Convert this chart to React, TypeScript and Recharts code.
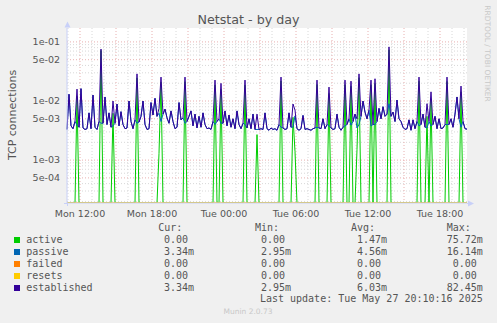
import React from 'react';
import { LineChart, Line, XAxis, YAxis, CartesianGrid, ReferenceLine } from 'recharts';

// Munin palette
const COLORS = {
  canvas: '#F0F0F0',
  plot: '#FFFFFF',
  text: '#555555',
  faint: '#C8C8C8',
  axis: '#C8D0F8',
  gridMinor: '#D8D8D8',
  gridMajor: '#E8B0B0',
};

const seriesNames = ['active', 'passive', 'failed', 'resets', 'established'];
const seriesColors = ['#00CC00', '#0066B3', '#FF8000', '#FFCC00', '#330099'];

// legend stats, as printed by rrdtool
const statCur = ['0.00', '3.34m', '0.00', '0.00', '3.34m'];
const statMin = ['0.00', '2.95m', '0.00', '0.00', '2.95m'];
const statAvg = ['1.47m', '4.56m', '0.00', '0.00', '6.03m'];
const statMax = ['75.72m', '16.14m', '0.00', '0.00', '82.45m'];

// samples every 10 minutes, starting Mon 10:55 (values in milli-connections)
const STEP = 10;

const established = [
  3.3, 13.0, 3.8, 3.4, 4.5, 15.9, 3.6, 16.2, 3.5, 3.3,
  3.4, 6.3, 3.4, 12.6, 3.6, 3.3, 4.5, 75.7, 4.2, 11.7,
  4.0, 6.3, 3.6, 10.0, 4.2, 8.9, 3.8, 6.6, 4.0, 3.4,
  3.5, 10.0, 4.5, 3.4, 4.8, 28.8, 4.4, 5.5, 10.0, 4.0,
  3.3, 3.4, 9.4, 5.8, 11.1, 5.5, 7.5, 25.4, 6.0, 7.3,
  5.2, 4.2, 6.8, 4.5, 3.4, 3.6, 9.4, 4.8, 5.2, 25.4,
  4.5, 5.5, 6.8, 3.8, 6.0, 3.5, 5.5, 3.6, 6.3, 4.0,
  3.4, 3.5, 3.3, 4.5, 22.6, 4.5, 5.0, 19.9, 4.2, 6.8,
  3.8, 5.8, 3.6, 5.0, 3.4, 6.8, 4.0, 3.4, 4.2, 22.6,
  3.5, 5.0, 3.4, 6.0, 3.3, 6.0, 3.3, 3.4, 3.3, 6.3,
  3.4, 3.2, 3.5, 3.3, 3.4, 3.2, 4.0, 25.4, 3.5, 3.3,
  3.4, 6.3, 3.6, 8.9, 7.0, 3.4, 3.2, 3.4, 5.7, 3.3,
  3.4, 3.3, 3.2, 3.4, 3.5, 22.6, 3.5, 3.4, 5.0, 3.4,
  4.0, 17.2, 3.5, 3.3, 3.4, 6.0, 3.6, 3.2, 3.6, 22.6,
  4.0, 5.0, 21.7, 4.5, 6.0, 5.0, 28.8, 5.5, 10.0, 6.5,
  5.0, 7.0, 22.6, 4.0, 23.8, 4.5, 7.5, 5.0, 8.0, 5.5,
  6.0, 82.4, 5.5, 6.5, 4.5, 10.4, 5.0, 4.5, 3.6, 3.3,
  3.4, 4.8, 3.2, 4.8, 3.4, 4.5, 25.4, 4.0, 6.0, 3.6,
  9.0, 4.5, 14.3, 4.0, 5.5, 3.4, 5.0, 3.4, 3.5, 4.0,
  25.4, 4.0, 5.0, 3.6, 6.0, 11.7, 5.0, 17.9, 4.5, 3.4,
  3.34,
];

const passive = [
  3.3, 13.0, 3.8, 3.4, 4.5, 3.9, 3.6, 16.14, 3.5, 3.3,
  3.4, 6.3, 3.4, 12.6, 3.6, 3.3, 4.5, 4.2, 4.2, 11.7,
  4.0, 6.3, 3.6, 3.8, 4.2, 8.9, 3.8, 6.6, 4.0, 3.4,
  3.5, 10.0, 4.5, 3.4, 4.8, 4.2, 4.4, 5.5, 10.0, 4.0,
  3.3, 3.4, 9.4, 5.8, 11.1, 5.5, 6.2, 4.5, 6.0, 7.3,
  5.2, 4.2, 6.8, 4.5, 3.4, 3.6, 9.4, 4.8, 5.2, 4.2,
  4.5, 5.5, 6.8, 3.8, 6.0, 3.5, 5.5, 3.6, 6.3, 4.0,
  3.4, 3.5, 3.3, 4.5, 4.0, 4.5, 5.0, 4.2, 4.2, 6.8,
  3.8, 5.8, 3.6, 5.0, 3.4, 6.8, 4.0, 3.4, 4.2, 4.0,
  3.5, 5.0, 3.4, 6.0, 3.3, 3.3, 3.3, 3.4, 3.3, 6.3,
  3.4, 3.2, 3.5, 3.3, 3.4, 3.2, 4.0, 3.6, 3.5, 3.3,
  3.4, 6.3, 3.6, 3.6, 5.6, 3.4, 3.2, 3.4, 5.7, 3.3,
  3.4, 3.3, 3.2, 3.4, 3.5, 3.6, 3.5, 3.4, 5.0, 3.4,
  4.0, 3.8, 3.5, 3.3, 3.4, 6.0, 3.6, 3.2, 3.6, 3.8,
  4.0, 5.0, 3.9, 4.5, 6.0, 3.5, 4.0, 5.5, 10.0, 6.5,
  5.0, 7.0, 3.8, 4.0, 4.0, 4.5, 7.5, 5.0, 8.0, 5.5,
  6.0, 9.0, 5.5, 6.5, 4.5, 10.4, 5.0, 4.5, 3.6, 3.3,
  3.4, 4.8, 3.2, 4.8, 3.4, 4.5, 3.8, 4.0, 6.0, 3.6,
  3.5, 4.5, 3.8, 4.0, 5.5, 3.4, 5.0, 3.4, 3.5, 4.0,
  4.0, 4.0, 5.0, 3.6, 6.0, 11.7, 5.0, 3.6, 4.5, 3.4,
  3.34,
];

const active = [
  0, 0, 0, 0, 0, 12.0, 0, 0, 0, 0,
  0, 0, 0, 0, 0, 0, 0, 71.5, 0, 0,
  0, 0, 0, 6.2, 0, 0, 0, 0, 0, 0,
  0, 0, 0, 0, 0, 24.6, 0, 0, 0, 0,
  0, 0, 0, 0, 0, 0, 1.3, 20.9, 0, 0,
  0, 0, 0, 0, 0, 0, 0, 0, 0, 21.2,
  0, 0, 0, 0, 0, 0, 0, 0, 0, 0,
  0, 0, 0, 0, 18.6, 0, 0, 15.7, 0, 0,
  0, 0, 0, 0, 0, 0, 0, 0, 0, 18.6,
  0, 0, 0, 0, 0, 2.7, 0, 0, 0, 0,
  0, 0, 0, 0, 0, 0, 0, 21.8, 0, 0,
  0, 0, 0, 5.3, 1.4, 0, 0, 0, 0, 0,
  0, 0, 0, 0, 0, 19.0, 0, 0, 0, 0,
  0, 13.4, 0, 0, 0, 0, 0, 0, 0, 18.8,
  0, 0, 17.8, 0, 0, 1.5, 24.8, 0, 0, 0,
  0, 0, 18.8, 0, 19.8, 0, 0, 0, 0, 0,
  0, 73.4, 0, 0, 0, 0, 0, 0, 0, 0,
  0, 0, 0, 0, 0, 0, 21.6, 0, 0, 0,
  5.5, 0, 10.5, 0, 0, 0, 0, 0, 0, 0,
  21.4, 0, 0, 0, 0, 0, 0, 14.3, 0, 0,
  0,
];

const failed = [
  0, 0, 0, 0, 0, 0, 0, 0, 0, 0, 0, 0, 0, 0, 0, 0, 0, 0, 0, 0,
  0, 0, 0, 0, 0, 0, 0, 0, 0, 0, 0, 0, 0, 0, 0, 0, 0, 0, 0, 0,
  0, 0, 0, 0, 0, 0, 0, 0, 0, 0, 0, 0, 0, 0, 0, 0, 0, 0, 0, 0,
  0, 0, 0, 0, 0, 0, 0, 0, 0, 0, 0, 0, 0, 0, 0, 0, 0, 0, 0, 0,
  0, 0, 0, 0, 0, 0, 0, 0, 0, 0, 0, 0, 0, 0, 0, 0, 0, 0, 0, 0,
  0, 0, 0, 0, 0, 0, 0, 0, 0, 0, 0, 0, 0, 0, 0, 0, 0, 0, 0, 0,
  0, 0, 0, 0, 0, 0, 0, 0, 0, 0, 0, 0, 0, 0, 0, 0, 0, 0, 0, 0,
  0, 0, 0, 0, 0, 0, 0, 0, 0, 0, 0, 0, 0, 0, 0, 0, 0, 0, 0, 0,
  0, 0, 0, 0, 0, 0, 0, 0, 0, 0, 0, 0, 0, 0, 0, 0, 0, 0, 0, 0,
  0, 0, 0, 0, 0, 0, 0, 0, 0, 0, 0, 0, 0, 0, 0, 0, 0, 0, 0, 0,
  0,
];

const resets = [
  0, 0, 0, 0, 0, 0, 0, 0, 0, 0, 0, 0, 0, 0, 0, 0, 0, 0, 0, 0,
  0, 0, 0, 0, 0, 0, 0, 0, 0, 0, 0, 0, 0, 0, 0, 0, 0, 0, 0, 0,
  0, 0, 0, 0, 0, 0, 0, 0, 0, 0, 0, 0, 0, 0, 0, 0, 0, 0, 0, 0,
  0, 0, 0, 0, 0, 0, 0, 0, 0, 0, 0, 0, 0, 0, 0, 0, 0, 0, 0, 0,
  0, 0, 0, 0, 0, 0, 0, 0, 0, 0, 0, 0, 0, 0, 0, 0, 0, 0, 0, 0,
  0, 0, 0, 0, 0, 0, 0, 0, 0, 0, 0, 0, 0, 0, 0, 0, 0, 0, 0, 0,
  0, 0, 0, 0, 0, 0, 0, 0, 0, 0, 0, 0, 0, 0, 0, 0, 0, 0, 0, 0,
  0, 0, 0, 0, 0, 0, 0, 0, 0, 0, 0, 0, 0, 0, 0, 0, 0, 0, 0, 0,
  0, 0, 0, 0, 0, 0, 0, 0, 0, 0, 0, 0, 0, 0, 0, 0, 0, 0, 0, 0,
  0, 0, 0, 0, 0, 0, 0, 0, 0, 0, 0, 0, 0, 0, 0, 0, 0, 0, 0, 0,
  0,
];

// axis ticks
const xTicks = [65, 425, 785, 1145, 1505, 1865];
const xTickLabels = ['Mon 12:00', 'Mon 18:00', 'Tue 00:00', 'Tue 06:00', 'Tue 12:00', 'Tue 18:00'];
const yTicks = [0.5, 1, 5, 10, 50, 100];
const yTickLabels = ['5e-04', '1e-03', '5e-03', '1e-02', '5e-02', '1e-01'];

// grid (log minor / major, hourly / 3-hourly)
const yGridMinor = [0.2, 0.3, 0.4, 0.6, 0.7, 0.8, 0.9, 2, 3, 4, 6, 7, 8, 9, 20, 30, 40, 60, 70, 80, 90];
const xGridMinor = [5, 125, 185, 305, 365, 485, 545, 665, 725, 845, 905, 1025, 1085, 1205, 1265, 1385, 1445, 1565, 1625, 1745, 1805, 1925, 1985];
const xGridMajor = [65, 245, 425, 605, 785, 965, 1145, 1325, 1505, 1685, 1865];

const Y_MIN = 0.188;
const Y_MAX = 172;
const T_MAX = 2000;

// zero can't sit on a log axis: rrdtool pins it to the bottom edge
const pin = (v: number) => (v > 0 ? v : Y_MIN);

const data = established.map((_, i) => ({
  t: i * STEP,
  active: pin(active[i]),
  passive: pin(passive[i]),
  failed: pin(failed[i]),
  resets: pin(resets[i]),
  established: pin(established[i]),
}));

const field = (s: string) => {
  const unit = s.endsWith('m') ? 'm' : '';
  return s.replace('m', '').padStart(6) + unit;
};

const mono = { fontFamily: '"DejaVu Sans Mono", monospace', fontSize: 10, color: COLORS.text, whiteSpace: 'pre' as const, lineHeight: '12px', position: 'absolute' as const };

const statCols = [
  { x: 152, vals: statCur },
  { x: 249, vals: statMin },
  { x: 345, vals: statAvg },
  { x: 440.7, vals: statMax },
];
const headers = [
  { x: 158.3, label: 'Cur:' },
  { x: 255, label: 'Min:' },
  { x: 351, label: 'Avg:' },
  { x: 446.7, label: 'Max:' },
];

export default function App() {
  const tickStyle = { fill: COLORS.text, fontSize: 9.5, fontFamily: 'DejaVu Sans' };
  return (
    <div style={{ position: 'absolute', left: 0, top: 0, width: 497, height: 323, background: COLORS.canvas, overflow: 'hidden' }}>
      <LineChart
        width={497}
        height={323}
        data={data}
        margin={{ top: 28, right: 30, bottom: 100, left: 7 }}
        style={{ position: 'absolute', left: 0, top: 0 }}
      >
        <CartesianGrid horizontal={false} vertical={false} fill={COLORS.plot} fillOpacity={1} />
        {yGridMinor.map((v) => (
          <ReferenceLine key={`ym${v}`} y={v} stroke={COLORS.gridMinor} strokeDasharray="1 2" />
        ))}
        {xGridMinor.map((v) => (
          <ReferenceLine key={`xm${v}`} x={v} stroke={COLORS.gridMinor} strokeDasharray="1 2" />
        ))}
        {yTicks.map((v) => (
          <ReferenceLine key={`yM${v}`} y={v} stroke={COLORS.gridMajor} strokeDasharray="1 2" />
        ))}
        {xGridMajor.map((v) => (
          <ReferenceLine key={`xM${v}`} x={v} stroke={COLORS.gridMajor} strokeDasharray="1 2" />
        ))}
        <XAxis
          dataKey="t"
          type="number"
          domain={[0, T_MAX]}
          ticks={xTicks}
          interval={0}
          tickFormatter={(v) => xTickLabels[xTicks.indexOf(v)]}
          tickLine={false}
          tickSize={5}
          tickMargin={2}
          height={20}
          axisLine={{ stroke: COLORS.axis }}
          tick={tickStyle}
        />
        <YAxis
          scale="log"
          domain={[Y_MIN, Y_MAX]}
          allowDataOverflow
          ticks={yTicks}
          interval={0}
          tickFormatter={(v) => yTickLabels[yTicks.indexOf(v)]}
          tickLine={false}
          tickSize={5}
          tickMargin={2}
          width={60}
          axisLine={{ stroke: COLORS.axis }}
          tick={tickStyle}
        />
        {seriesNames.map((name, i) => (
          <Line
            key={name}
            type="linear"
            dataKey={name}
            stroke={seriesColors[i]}
            strokeWidth={1}
            dot={false}
            activeDot={false}
            isAnimationActive={false}
          />
        ))}
      </LineChart>

      {/* decorations: axis arrows, rotated labels */}
      <svg width={497} height={323} style={{ position: 'absolute', left: 0, top: 0, pointerEvents: 'none' }}>
        <line x1={67.5} y1={203} x2={67.5} y2={206} stroke={COLORS.axis} />
        <line x1={64} y1={203.5} x2={67} y2={203.5} stroke={COLORS.axis} />
        <line x1={467} y1={203.5} x2={470} y2={203.5} stroke={COLORS.axis} />
        <polygon points="67.5,21.5 64.5,27.5 70.5,27.5" fill={COLORS.axis} />
        <polygon points="474,203.5 468,200.5 468,206.5" fill={COLORS.axis} />
        <text
          x={12}
          y={115}
          transform="rotate(-90 12 115)"
          textAnchor="middle"
          dominantBaseline="central"
          fontFamily="DejaVu Sans"
          fontSize={11}
          fill={COLORS.text}
        >
          TCP connections
        </text>
        <text
          x={487.5}
          y={53.5}
          transform="rotate(90 487.5 53.5)"
          textAnchor="middle"
          dominantBaseline="central"
          fontFamily="DejaVu Sans"
          fontSize={7.5}
          fill={COLORS.faint}
        >
          RRDTOOL / TOBI OETIKER
        </text>
        <text x={248.5} y={19} textAnchor="middle" dominantBaseline="central" fontFamily="DejaVu Sans" fontSize={12.7} fill={COLORS.text}>
          Netstat - by day
        </text>
        <text x={248} y={311.7} textAnchor="middle" dominantBaseline="central" fontFamily="DejaVu Sans" fontSize={7.5} fill={COLORS.faint}>
          Munin 2.0.73
        </text>
      </svg>

      {/* legend */}
      {headers.map((h) => (
        <div key={h.label} style={{ ...mono, left: h.x, top: 227.7 - 6 }}>{h.label}</div>
      ))}
      {seriesNames.map((name, i) => {
        const cy = 239.5 + i * 12;
        return (
          <React.Fragment key={name}>
            <div style={{ position: 'absolute', left: 14, top: cy - 3, width: 6, height: 6, background: seriesColors[i] }} />
            <div style={{ ...mono, left: 26.3, top: cy - 6 }}>{name}</div>
            {statCols.map((c, k) => (
              <div key={k} style={{ ...mono, left: c.x, top: cy - 6 }}>{field(c.vals[i])}</div>
            ))}
          </React.Fragment>
        );
      })}
      <div style={{ ...mono, right: 497 - 482.7, top: 299.3 - 6 }}>Last update: Tue May 27 20:10:16 2025</div>
    </div>
  );
}
